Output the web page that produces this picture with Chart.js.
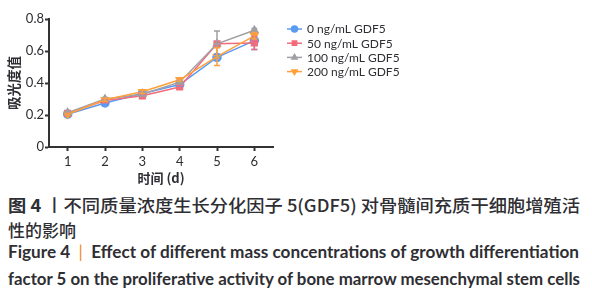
<!DOCTYPE html>
<html><head><meta charset="utf-8">
<script src="https://cdn.jsdelivr.net/npm/chart.js@4"></script>
<style>
html,body{margin:0;padding:0;background:#fff;width:592px;height:300px;overflow:hidden;}
#wrap{position:absolute;left:0;top:0;width:592px;height:190px;}
.cap{position:absolute;left:8px;white-space:nowrap;color:#2e2e33;transform-origin:0 50%;}
.zh{font-family:"Noto Sans CJK SC";font-size:17px;line-height:20px;font-weight:500;}
.en{font-family:"Lato","Open Sans";font-weight:700;font-size:16.5px;line-height:20px;}
.bar{color:#f08a28;font-weight:400;}
b{font-weight:700;}
</style></head>
<body>
<div id="wrap"><canvas id="c" width="592" height="190"></canvas></div>
<div class="cap zh" id="l1" style="top:195px" data-w="572"><b>图 4</b> 丨不同质量浓度生长分化因子 5(GDF5) 对骨髓间充质干细胞增殖活</div>
<div class="cap zh" id="l2" style="top:220px">性的影响</div>
<div class="cap en" id="l3" style="top:242px" data-w="571">Figure 4 &nbsp;<span class="bar">|</span>&nbsp; Effect of different mass concentrations of growth differentiation</div>
<div class="cap en" id="l4" style="top:269px" data-w="572">factor 5 on the proliferative activity of bone marrow mesenchymal stem cells</div>
<script>
const days = ['1','2','3','4','5','6'];
const seriesNames = ['0 ng/mL GDF5','50 ng/mL GDF5','100 ng/mL GDF5','200 ng/mL GDF5'];
const g0   = [0.205, 0.275, 0.335, 0.39, 0.56, 0.665];
const g0e  = [0.005, 0.010, 0.010, 0.010, 0.020, 0.055];
const g50  = [0.210, 0.290, 0.320, 0.375, 0.645, 0.650];
const g50e = [0.008, 0.010, 0.010, 0.010, 0.012, 0.040];
const g100 = [0.215, 0.300, 0.330, 0.405, 0.645, 0.730];
const g100e= [0.005, 0.010, 0.012, 0.010, 0.080, 0.010];
const g200 = [0.205, 0.295, 0.345, 0.420, 0.565, 0.695];
const g200e= [0.005, 0.010, 0.010, 0.010, 0.055, 0.020];
const yTicks = [0, 0.2, 0.4, 0.6, 0.8];

const colors = ['#5b9cf2','#f26c7a','#a0a0a4','#ffa03c'];
const styles = ['circle','rect','triangle','triangle'];
const rots = [0,0,0,180];
const vals = [g0,g50,g100,g200];
const errs = [g0e,g50e,g100e,g200e];

const errorBars = {
  id:'errorBars',
  afterDatasetsDraw(chart){
    const ctx = chart.ctx, xs = chart.scales.x, ys = chart.scales.y;
    ctx.save();
    [0,1,2,3].forEach(d=>{
      ctx.strokeStyle = colors[d]; ctx.lineWidth = 1.5;
      vals[d].forEach((v,i)=>{
        const x = xs.getPixelForValue(i);
        const t = ys.getPixelForValue(v+errs[d][i]);
        const b = ys.getPixelForValue(v-errs[d][i]);
        ctx.beginPath();
        ctx.moveTo(x,t); ctx.lineTo(x,b);
        ctx.moveTo(x-3,t); ctx.lineTo(x+3,t);
        ctx.moveTo(x-3,b); ctx.lineTo(x+3,b);
        ctx.stroke();
      });
    });
    ctx.restore();
  }
};

const customLegend = {
  id:'customLegend',
  afterDraw(chart){
    const ctx = chart.ctx;
    ctx.save();
    chart.data.datasets.forEach((ds,i)=>{
      const y = 29 + i*14.2;
      ctx.strokeStyle = ds.borderColor; ctx.lineWidth = 1.5;
      ctx.beginPath(); ctx.moveTo(287,y); ctx.lineTo(302,y); ctx.stroke();
      ctx.fillStyle = ds.borderColor;
      Chart.helpers.drawPoint(ctx,{pointStyle:ds.pointStyle,rotation:ds.pointRotation,radius:3,borderWidth:1},294.5,y);
      ctx.fillStyle = '#2e2e33';
      ctx.font = '12px Lato';
      ctx.textBaseline = 'middle';
      ctx.fillText(ds.label, 307, y+0.5);
    });
    ctx.restore();
  }
};

new Chart(document.getElementById('c'), {
  type:'line',
  data:{
    labels: days,
    datasets: seriesNames.map((n,i)=>({
      label:n, data:vals[i], borderColor:colors[i], backgroundColor:colors[i],
      pointStyle:styles[i], pointRadius:4, borderWidth:1.5,
      pointRotation:rots[i], order:4-i, tension:0
    }))
  },
  options:{
    responsive:false, animation:false,
    layout:{padding:{left:0, top:19, right:319, bottom:0}},
    plugins:{legend:{display:false}, tooltip:{enabled:false}},
    scales:{
      x:{
        type:'category', offset:true,
        afterFit(s){ s.height = 43; },
        grid:{display:true, drawOnChartArea:false, offset:false, tickLength:4, tickWidth:2, tickColor:'#333'},
        border:{display:true, color:'#333', width:2},
        ticks:{color:'#2e2e33', font:{family:'Lato', size:13}, padding:3},
        title:{display:true, text:'时间 (d)', color:'#2e2e33', font:{family:'Noto Sans CJK SC', size:13, weight:'bold'}, padding:{top:0,bottom:4}}
      },
      y:{
        min:0, max:0.8,
        afterFit(s){ s.width = 49; },
        afterBuildTicks(s){ s.ticks = yTicks.map(v=>({value:v})); },
        grid:{display:true, drawOnChartArea:false, tickLength:4, tickWidth:2, tickColor:'#333'},
        border:{display:true, color:'#333', width:2},
        ticks:{color:'#2e2e33', font:{family:'Lato', size:13}, padding:1,
               callback:(v)=>String(Math.round(v*10)/10)},
        title:{display:true, text:'吸光度值', color:'#2e2e33', font:{family:'Noto Sans CJK SC', size:13.5, weight:'bold'}, padding:{top:6,bottom:0}}
      }
    }
  },
  plugins:[errorBars, customLegend]
});

document.querySelectorAll('.cap[data-w]').forEach(el=>{
  const w = el.getBoundingClientRect().width;
  const tw = +el.dataset.w;
  el.style.transform = 'scaleX(' + (tw/w) + ')';
});
</script>
</body></html>
